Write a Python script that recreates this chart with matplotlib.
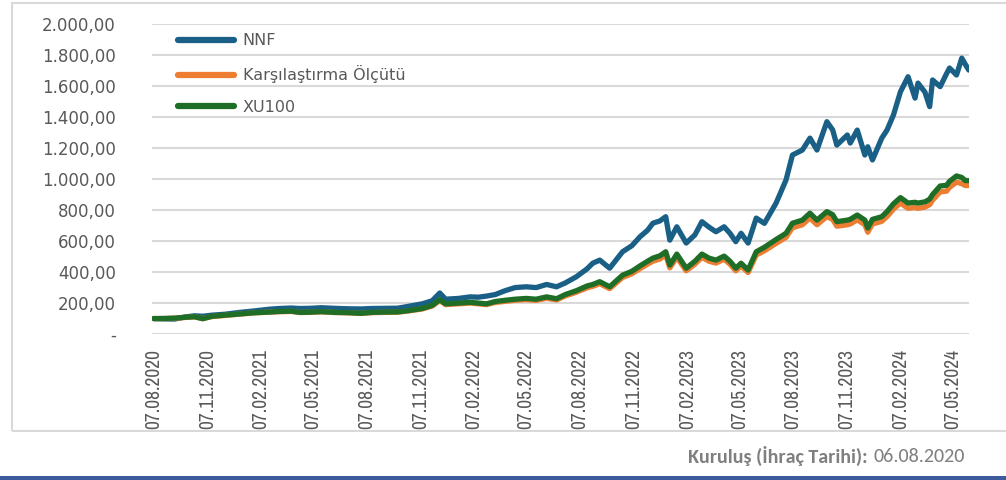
import pandas as pd
import matplotlib.pyplot as plt
from matplotlib.lines import Line2D
from matplotlib.patches import Rectangle
from matplotlib.ticker import FuncFormatter

# values
dates = [
    '2020-08-07', '2020-08-26', '2020-09-12', '2020-09-29', '2020-10-16', '2020-10-30',
    '2020-11-15', '2020-12-07', '2021-01-02', '2021-01-28', '2021-02-20', '2021-03-10',
    '2021-03-31', '2021-04-14', '2021-05-01', '2021-05-21', '2021-06-13', '2021-07-08',
    '2021-07-28', '2021-08-15', '2021-09-07', '2021-09-29', '2021-10-19', '2021-11-10',
    '2021-11-27', '2021-12-10', '2021-12-20', '2022-01-11', '2022-01-31', '2022-02-14',
    '2022-02-28', '2022-03-15', '2022-04-01', '2022-04-18', '2022-05-07', '2022-05-24',
    '2022-06-11', '2022-06-28', '2022-07-13', '2022-08-01', '2022-08-19', '2022-08-29',
    '2022-09-10', '2022-09-27', '2022-10-19', '2022-11-04', '2022-11-18', '2022-12-01',
    '2022-12-10', '2022-12-22', '2023-01-01', '2023-01-08', '2023-01-20', '2023-02-05',
    '2023-02-20', '2023-03-04', '2023-03-16', '2023-03-28', '2023-04-11', '2023-04-21',
    '2023-05-01', '2023-05-10', '2023-05-22', '2023-06-05', '2023-06-19', '2023-07-09',
    '2023-07-26', '2023-08-06', '2023-08-23', '2023-09-05', '2023-09-17', '2023-10-04',
    '2023-10-14', '2023-10-21', '2023-11-08', '2023-11-13', '2023-11-25', '2023-12-08',
    '2023-12-13', '2023-12-21', '2024-01-06', '2024-01-15', '2024-01-26', '2024-02-07',
    '2024-02-20', '2024-03-03', '2024-03-08', '2024-03-20', '2024-03-28', '2024-04-02',
    '2024-04-15', '2024-04-26', '2024-05-01', '2024-05-13', '2024-05-22', '2024-05-28',
    '2024-06-03',
]

nnf = [
    100, 98, 97, 110, 118, 115, 122, 128, 140, 150, 160, 165,
    168, 165, 166, 170, 166, 163, 162, 165, 166, 167, 180, 195,
    215, 265, 225, 230, 240, 238, 245, 255, 280, 300, 305, 300,
    320, 305, 330, 370, 420, 457, 477, 425, 531, 570, 628, 670,
    715, 730, 757, 606, 692, 587, 640, 725, 690, 660, 692, 650,
    596, 650, 587, 748, 714, 845, 994, 1155, 1187, 1264, 1187, 1370,
    1316, 1219, 1284, 1232, 1316, 1155, 1208, 1123, 1264, 1316, 1413, 1563,
    1660, 1522, 1619, 1560, 1467, 1639, 1596, 1680, 1716, 1671, 1780, 1740,
    1703,
]

benchmark = [
    100, 100, 102, 107, 111, 100, 113, 120, 129, 137, 141, 144,
    146, 139, 140, 143, 139, 137, 133, 138, 140, 141, 150, 162,
    181, 216, 190, 195, 200, 195, 190, 204, 211, 218, 222, 217,
    231, 220, 246, 270, 298, 308, 325, 293, 365, 389, 422, 451,
    470, 484, 510, 427, 495, 408, 451, 495, 470, 458, 483, 451,
    408, 439, 397, 510, 537, 585, 624, 686, 705, 749, 705, 758,
    739, 696, 705, 710, 737, 705, 657, 710, 727, 758, 806, 845,
    811, 816, 811, 819, 835, 864, 917, 922, 946, 980, 970, 958,
    958,
]

xu100 = [
    100, 101, 103, 108, 112, 99, 115, 122, 130, 138, 142, 146,
    148, 140, 141, 145, 140, 138, 134, 140, 142, 143, 152, 165,
    185, 222, 195, 200, 205, 200, 195, 210, 218, 225, 230, 225,
    240, 228, 255, 280, 310, 320, 338, 305, 380, 405, 440, 470,
    490, 505, 531, 445, 516, 425, 470, 516, 490, 477, 503, 470,
    425, 457, 413, 531, 560, 610, 650, 715, 735, 780, 735, 790,
    770, 725, 735, 740, 768, 735, 684, 740, 757, 790, 840, 880,
    845, 850, 845, 853, 870, 900, 955, 960, 985, 1020, 1010, 990,
    990,
]

tick_labels = [
    '07.08.2020', '07.11.2020', '07.02.2021', '07.05.2021', '07.08.2021',
    '07.11.2021', '07.02.2022', '07.05.2022', '07.08.2022', '07.11.2022',
    '07.02.2023', '07.05.2023', '07.08.2023', '07.11.2023', '07.02.2024',
    '07.05.2024',
]

series_names = ['NNF', 'Karşılaştırma Ölçütü', 'XU100']
colors = ['#1a5f85', '#ed7d31', '#1f6e27']
label_color = '#595959'

x = pd.to_datetime(dates)
ticks = pd.to_datetime(tick_labels, format='%d.%m.%Y')

fig = plt.figure(figsize=(10.06, 4.8), dpi=100)
ax = fig.add_axes([0.151, 0.304, 0.812, 0.646])

ax.plot(x, nnf, color=colors[0], lw=3.8, solid_capstyle='round', zorder=3)
ax.plot(x, benchmark, color=colors[1], lw=3.8, solid_capstyle='round', zorder=4)
ax.plot(x, xu100, color=colors[2], lw=3.8, solid_capstyle='round', zorder=5)

ax.set_ylim(0, 2000)
ax.set_xlim(x[0] - pd.Timedelta(days=3), x[-1])
ax.set_yticks(range(0, 2001, 200))


def tr_fmt(v, pos):
    if v == 0:
        return '-'
    s = f'{v:,.2f}'
    return s.replace(',', 'X').replace('.', ',').replace('X', '.')


ax.yaxis.set_major_formatter(FuncFormatter(tr_fmt))
ax.grid(axis='y', color='#d9d9d9', lw=1.5, zorder=0)
for s in ax.spines.values():
    s.set_visible(False)

ax.set_xticks(ticks)
ax.set_xticklabels(tick_labels, rotation=90, color=label_color, fontsize=14,
                   family=['Liberation Sans Narrow', 'Archivo Narrow', 'DejaVu Sans'])
ax.tick_params(axis='x', length=0, pad=11)
ax.tick_params(axis='y', length=0, pad=26, labelsize=12, labelcolor=label_color)

handles = [Line2D([0], [0], color=c, lw=4.5, solid_capstyle='round') for c in colors]
leg = ax.legend(handles, series_names, loc='upper left', bbox_to_anchor=(0.024, 0.99),
                frameon=False, fontsize=11.5, handlelength=3.5, handletextpad=0.55,
                labelspacing=1.05, borderaxespad=0)
for t in leg.get_texts():
    t.set_color(label_color)

# outer light frame and bottom band
fig.patches.append(Rectangle((12 / 1006, 1 - 431 / 480), 1.1, (431 - 3) / 480,
                             transform=fig.transFigure, fill=False, ec='#d9d9d9', lw=1.5))
fig.patches.append(Rectangle((0, 0), 1, 4 / 480, transform=fig.transFigure,
                             color='#3b5b9a', lw=0))

foot = ['Carlito', 'Lato', 'DejaVu Sans']
fig.text(868 / 1006, 1 - 456 / 480, 'Kuruluş (İhraç Tarihi):', ha='right', va='center',
         fontsize=14.5, fontweight='bold', color='#7f7f7f', family=foot)
fig.text(873 / 1006, 1 - 456 / 480, '06.08.2020', ha='left', va='center',
         fontsize=14.5, color='#7f7f7f', family=foot)

plt.savefig('out.png', dpi=100)
